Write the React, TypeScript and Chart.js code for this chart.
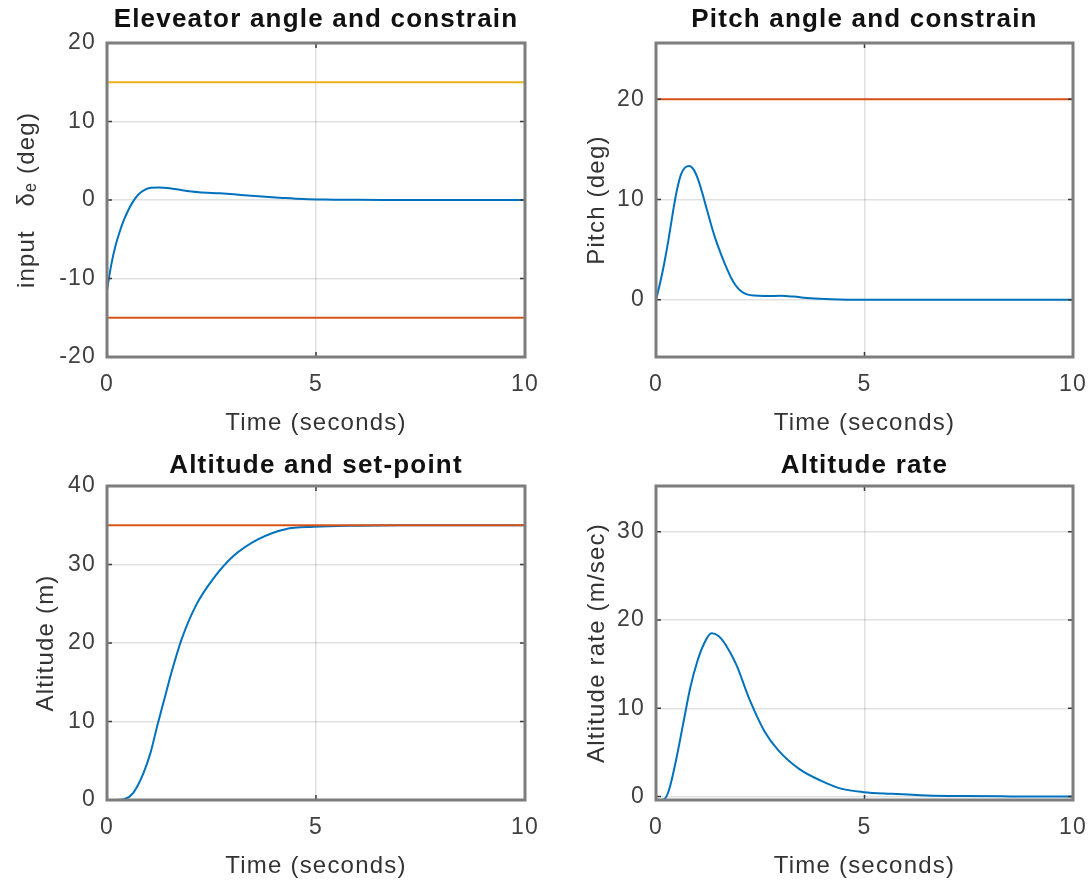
import React, { useEffect, useRef } from "react";
import { Chart, registerables } from "chart.js";

Chart.register(...registerables);

const FONT = "'Liberation Sans', Arial, Helvetica, sans-serif";

// ---------- data ----------
const timeTicks = [0, 5, 10];

const elevT = [0, 0.1, 0.2, 0.3, 0.4, 0.5, 0.6, 0.75, 0.9, 1.05, 1.25, 1.5, 1.8, 2.2, 2.7, 3.2, 3.7, 4.2, 4.7, 5.2, 6, 7, 8, 10];
const elevV = [-11.5, -8.3, -5.9, -4.1, -2.6, -1.4, -0.4, 0.7, 1.3, 1.55, 1.6, 1.5, 1.25, 1.0, 0.85, 0.65, 0.45, 0.27, 0.12, 0.05, 0.02, 0.01, 0, 0];
const elevUpperT = [0, 10];
const elevUpperV = [15, 15];
const elevLowerT = [0, 10];
const elevLowerV = [-15, -15];
const elevYTicks = [-20, -10, 0, 10, 20];

const pitchT = [0, 0.1, 0.2, 0.3, 0.4, 0.5, 0.6, 0.7, 0.8, 0.9, 1.0, 1.1, 1.2, 1.3, 1.4, 1.5, 1.6, 1.7, 1.8, 1.9, 2.0, 2.1, 2.2, 2.35, 2.6, 3.0, 3.3, 3.7, 4.2, 5, 10];
const pitchV = [0, 1.7, 3.7, 6.0, 8.6, 10.9, 12.5, 13.2, 13.35, 13.0, 12.1, 10.8, 9.3, 7.8, 6.4, 5.2, 4.1, 3.1, 2.2, 1.5, 1.0, 0.7, 0.52, 0.42, 0.38, 0.4, 0.32, 0.15, 0.05, 0, 0];
const pitchLimitT = [0, 10];
const pitchLimitV = [20, 20];
const pitchYTicks = [0, 10, 20];

const altT = [0, 0.2, 0.41, 0.62, 0.87, 1.04, 1.2, 1.37, 1.54, 1.78, 2.12, 2.53, 3.03, 3.61, 4.27, 4.95, 6, 7, 10];
const altV = [0, 0, 0.1, 0.85, 3.4, 6, 9.4, 12.8, 16.2, 20.4, 24.7, 28.1, 31.1, 33.2, 34.5, 34.8, 34.95, 35, 35];
const altSetT = [0, 10];
const altSetV = [35, 35];
const altYTicks = [0, 10, 20, 30, 40];

const rateT = [0, 0.1, 0.19, 0.31, 0.48, 0.65, 0.82, 0.99, 1.16, 1.33, 1.5, 1.67, 1.92, 2.26, 2.6, 2.94, 3.44, 3.95, 4.46, 4.98, 5.64, 6.5, 7.33, 8.5, 10];
const rateV = [-0.35, -0.4, -0.35, 0.7, 4.1, 8.2, 12.3, 15.3, 17.4, 18.5, 18.2, 17.2, 15, 10.8, 7.4, 5.2, 3.1, 1.8, 0.86, 0.49, 0.3, 0.11, 0.04, 0.01, 0];
const rateYTicks = [0, 10, 20, 30];

// ---------- styles ----------
const BLUE = "#0072BD";
const ORANGE = "#D95319";
const YELLOW = "#EDB120";

type Series = { t: number[]; v: number[]; color: string; order: number; width: number };
type Panel = {
  title: string;
  ylabel: string;
  yMin: number;
  yMax: number;
  yTicks: number[];
  series: Series[];
  left: number;
  top: number;
  width: number;
  height: number;
  areaLeft: number;
  areaTop: number;
  areaRight: number;
  areaBottom: number;
  titleY: number;
  ylabelX: number;
};

const panels: Panel[] = [
  {
    title: "Eleveator angle and constrain",
    ylabel: "input   δₑ (deg)",
    yMin: -20,
    yMax: 20,
    yTicks: elevYTicks,
    series: [
      { t: elevT, v: elevV, color: BLUE, order: 0, width: 2 },
      { t: elevUpperT, v: elevUpperV, color: YELLOW, order: 1, width: 2 },
      { t: elevLowerT, v: elevLowerV, color: ORANGE, order: 2, width: 2 },
    ],
    left: 0, top: 0, width: 545, height: 443,
    areaLeft: 107, areaTop: 43, areaRight: 525, areaBottom: 357,
    titleY: 20, ylabelX: 27,
  },
  {
    title: "Pitch angle and constrain",
    ylabel: "Pitch (deg)",
    yMin: -5.7,
    yMax: 25.6,
    yTicks: pitchYTicks,
    series: [
      { t: pitchT, v: pitchV, color: BLUE, order: 0, width: 2 },
      { t: pitchLimitT, v: pitchLimitV, color: ORANGE, order: 1, width: 2 },
    ],
    left: 545, top: 0, width: 546, height: 443,
    areaLeft: 111, areaTop: 43, areaRight: 528, areaBottom: 357,
    titleY: 20, ylabelX: 52,
  },
  {
    title: "Altitude and set-point",
    ylabel: "Altitude (m)",
    yMin: 0,
    yMax: 40,
    yTicks: altYTicks,
    series: [
      { t: altT, v: altV, color: BLUE, order: 1, width: 2 },
      { t: altSetT, v: altSetV, color: ORANGE, order: 0, width: 2 },
    ],
    left: 0, top: 443, width: 545, height: 443,
    areaLeft: 107, areaTop: 43, areaRight: 525, areaBottom: 357,
    titleY: 23, ylabelX: 46,
  },
  {
    title: "Altitude rate",
    ylabel: "Altitude rate (m/sec)",
    yMin: -0.4,
    yMax: 35.2,
    yTicks: rateYTicks,
    series: [{ t: rateT, v: rateV, color: BLUE, order: 0, width: 2 }],
    left: 545, top: 443, width: 546, height: 443,
    areaLeft: 111, areaTop: 43, areaRight: 528, areaBottom: 357,
    titleY: 23, ylabelX: 52,
  },
];

const spacingPlugin = {
  id: "spacing",
  beforeUpdate(chart: any) {
    (chart.ctx as any).letterSpacing = "1.2px";
  },
  beforeDraw(chart: any) {
    (chart.ctx as any).letterSpacing = "1.2px";
  },
};

const boxPlugin = {
  id: "matlabBox",
  afterDatasetsDraw(chart: any) {
    const { ctx, chartArea, scales } = chart;
    const { left, top, right, bottom } = chartArea;
    ctx.save();
    ctx.strokeStyle = "#3a3a3a";
    ctx.lineWidth = 1.5;
    ctx.beginPath();
    for (const tk of scales.x.ticks) {
      const px = scales.x.getPixelForValue(tk.value);
      ctx.moveTo(px, bottom);
      ctx.lineTo(px, bottom - 5);
      ctx.moveTo(px, top);
      ctx.lineTo(px, top + 5);
    }
    for (const tk of scales.y.ticks) {
      const py = scales.y.getPixelForValue(tk.value);
      ctx.moveTo(left, py);
      ctx.lineTo(left + 5, py);
      ctx.moveTo(right, py);
      ctx.lineTo(right - 5, py);
    }
    ctx.stroke();
    ctx.strokeStyle = "#7d7d7d";
    ctx.lineWidth = 3;
    ctx.strokeRect(left, top, right - left, bottom - top);
    ctx.restore();
  },
};

function PanelChart({ p }: { p: Panel }) {
  const ref = useRef<HTMLCanvasElement | null>(null);
  useEffect(() => {
    if (!ref.current) return;
    const titleLH = 26 * 1.2;
    const titlePadTop = p.titleY - titleLH / 2;
    const titlePadBottom = p.areaTop - titleLH - titlePadTop;
    const labelFont = { family: FONT, size: 24, lineHeight: 1.2 };
    const tickFont = { family: FONT, size: 23, lineHeight: 1.2 };
    // x tick labels: centre 28px below the plot box, no extra side padding
    const xTickFont = { family: FONT, size: 23, lineHeight: 56 / 23 };
    const chart = new Chart(ref.current, {
      type: "line",
      data: {
        datasets: p.series.map((s) => ({
          data: s.t.map((t, i) => ({ x: t, y: s.v[i] })),
          borderColor: s.color,
          backgroundColor: s.color,
          borderWidth: s.width,
          pointRadius: 0,
          fill: false,
          cubicInterpolationMode: "monotone" as const,
          order: s.order,
          xAxisID: "x",
          yAxisID: "y",
        })),
      },
      options: {
        responsive: false,
        animation: false,
        events: [],
        layout: { padding: 0 },
        plugins: {
          legend: { display: false },
          tooltip: { enabled: false },
          title: {
            display: true,
            text: p.title,
            fullSize: false,
            color: "#111111",
            font: { family: FONT, size: 26, weight: "bold", lineHeight: 1.2 },
            padding: { top: titlePadTop, bottom: titlePadBottom },
          },
        },
        scales: {
          x: {
            type: "linear",
            min: 0,
            max: 10,
            afterBuildTicks: (s: any) => {
              s.ticks = timeTicks.map((v) => ({ value: v }));
            },
            afterFit: (s: any) => {
              s.height = p.height - p.areaBottom;
            },
            ticks: {
              font: xTickFont,
              color: "#404040",
              padding: 0,
              maxRotation: 0,
              autoSkip: false,
            },
            grid: { color: "rgba(0,0,0,0.12)", lineWidth: 1.5, drawTicks: false },
            border: { display: false },
            title: {
              display: true,
              text: "Time (seconds)",
              color: "#333333",
              font: labelFont,
              padding: { top: 0, bottom: 5.6 },
            },
          },
          y: {
            type: "linear",
            position: "left",
            min: p.yMin,
            max: p.yMax,
            afterBuildTicks: (s: any) => {
              s.ticks = p.yTicks.map((v) => ({ value: v }));
            },
            afterFit: (s: any) => {
              s.width = p.areaLeft;
            },
            ticks: {
              font: tickFont,
              color: "#404040",
              padding: 11,
              autoSkip: false,
            },
            grid: { color: "rgba(0,0,0,0.12)", lineWidth: 1.5, drawTicks: false },
            border: { display: false },
            title: {
              display: true,
              text: p.ylabel,
              color: "#333333",
              font: labelFont,
              padding: { top: p.ylabelX - 14.4, bottom: 0 },
            },
          },
          yr: {
            type: "linear",
            position: "right",
            min: p.yMin,
            max: p.yMax,
            afterFit: (s: any) => {
              s.width = p.width - p.areaRight;
            },
            ticks: { display: false },
            grid: { display: false, drawTicks: false },
            border: { display: false },
            title: { display: false },
          },
        },
      },
      plugins: [spacingPlugin, boxPlugin],
    } as any);
    return () => chart.destroy();
  }, [p]);
  return (
    <canvas
      ref={ref}
      width={p.width}
      height={p.height}
      style={{ position: "absolute", left: p.left, top: p.top, width: p.width, height: p.height }}
    />
  );
}

export default function App() {
  return (
    <div style={{ position: "absolute", left: 0, top: 0, width: 1091, height: 886, background: "#ffffff" }}>
      {panels.map((p, i) => (
        <PanelChart key={i} p={p} />
      ))}
    </div>
  );
}
